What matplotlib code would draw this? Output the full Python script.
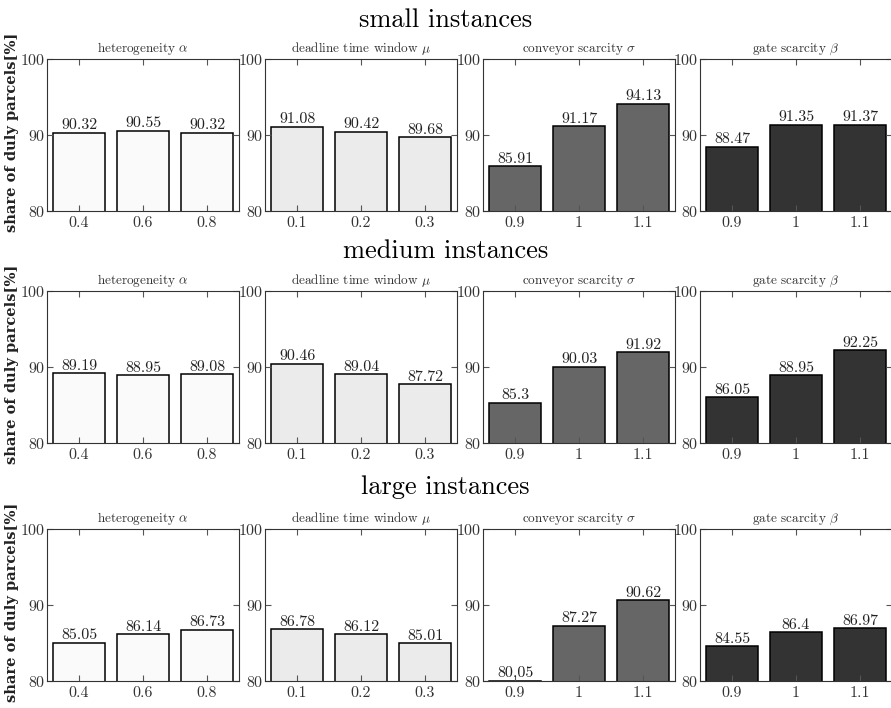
import matplotlib
matplotlib.use("Agg")
import matplotlib.pyplot as plt

plt.rcParams['font.family'] = 'serif'
plt.rcParams['font.serif'] = ['cmr10']
plt.rcParams['mathtext.fontset'] = 'cm'
plt.rcParams['axes.unicode_minus'] = False
plt.rcParams['axes.formatter.use_mathtext'] = True

# data
row_titles = ['small instances', 'medium instances', 'large instances']
panel_titles = [r'heterogeneity $\alpha$', r'deadline time window $\mu$',
                r'conveyor scarcity $\sigma$', r'gate scarcity $\beta$']
tick_labels = [['0.4', '0.6', '0.8'], ['0.1', '0.2', '0.3'],
               ['0.9', '1', '1.1'], ['0.9', '1', '1.1']]
panel_colors = ['#fafafa', '#ebebeb', '#666666', '#333333']

small_vals = [[90.32, 90.55, 90.32], [91.08, 90.42, 89.68],
              [85.91, 91.17, 94.13], [88.47, 91.35, 91.37]]
medium_vals = [[89.19, 88.95, 89.08], [90.46, 89.04, 87.72],
               [85.3, 90.03, 91.92], [86.05, 88.95, 92.25]]
large_vals = [[85.05, 86.14, 86.73], [86.78, 86.12, 85.01],
              [80.05, 87.27, 90.62], [84.55, 86.4, 86.97]]
all_vals = [small_vals, medium_vals, large_vals]

W, H = 891, 708
fig = plt.figure(figsize=(W / 100, H / 100), dpi=100)

col_left = [47, 265, 483, 700]
ax_w = 192
row_top = [59, 291, 529]
ax_h = 152
row_title_y = [20, 251, 487]

for r in range(3):
    fig.text(0.5, 1 - row_title_y[r] / H, row_titles[r], ha='center', va='center', fontsize=19)
    for c in range(4):
        ax = fig.add_axes([col_left[c] / W, 1 - (row_top[r] + ax_h) / H, ax_w / W, ax_h / H])
        vals = all_vals[r][c]
        xs = range(len(vals))
        bars = ax.bar(xs, vals, width=0.8, color=panel_colors[c], edgecolor='black', linewidth=1.1)
        for b, v in zip(bars, vals):
            ax.text(b.get_x() + b.get_width() / 2, v + 0.05, str(v), ha='center', va='bottom',
                    fontsize=11.5, color='#222222')
        ax.set_xlim(-0.5, 2.5)
        ax.set_ylim(80, 100)
        ax.set_yticks([80, 90, 100])
        ax.set_xticks(list(xs))
        ax.set_xticklabels(tick_labels[c])
        ax.tick_params(direction='in', top=True, right=True, labelsize=11.5, length=4,
                       labelcolor='#333333', color='#555555')
        ax.tick_params(axis='y', pad=1)
        ax.tick_params(axis='x', pad=4)
        for s in ax.spines.values():
            s.set_color('#333333')
        ax.set_title(panel_titles[c], fontsize=9.5, pad=5, color='#333333')
        if c == 0:
            fig.text(12 / W, 1 - (row_top[r] + ax_h / 2 - 3) / H, 'share of duly parcels[%]',
                     rotation=90, ha='center', va='center', fontsize=10.5,
                     family='DejaVu Serif', weight='bold', color='#222222')

fig.savefig('out.png', dpi=100)
